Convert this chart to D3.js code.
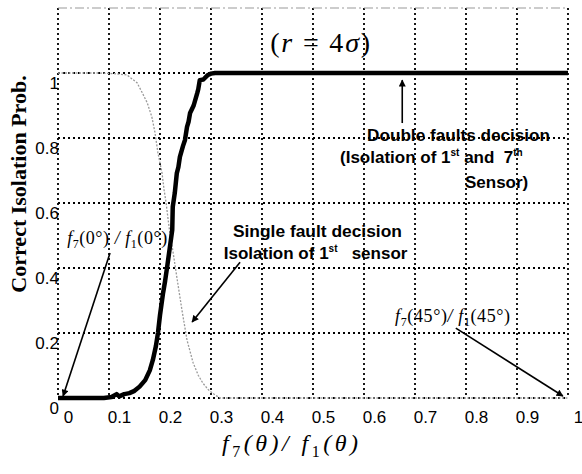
<!DOCTYPE html>
<html>
<head>
<meta charset="utf-8">
<script src="https://cdn.jsdelivr.net/npm/d3@7"></script>
<style>
  body { margin: 0; background: #fff; }
  .ann { font-family: "Liberation Sans", Arial, sans-serif; font-weight: bold; font-size: 17px; fill: #000; white-space: pre; }
  .math { font-family: "Liberation Serif", "Times New Roman", serif; font-style: italic; fill: #000; }
</style>
</head>
<body>
<div id="chart"></div>
<script>
let svgWidth = 582;
let svgHeight = 474;
let margin = { top: 8, right: 14, bottom: 76, left: 58 };
let width = svgWidth - margin.left - margin.right;
let height = svgHeight - margin.top - margin.bottom;

// tick values
let xTicks = [0, 0.1, 0.2, 0.3, 0.4, 0.5, 0.6, 0.7, 0.8, 0.9, 1];
let yTicks = [0, 0.2, 0.4, 0.6, 0.8, 1];

// double faults decision (thick black)
let doubleX = [0, 0.09, 0.105, 0.115, 0.12, 0.13, 0.14, 0.15, 0.16, 0.171, 0.18, 0.186, 0.192, 0.196, 0.2, 0.206, 0.21, 0.214, 0.219, 0.224, 0.225, 0.229, 0.233, 0.236, 0.239, 0.245, 0.249, 0.253, 0.256, 0.259, 0.266, 0.273, 0.275, 0.278, 0.285, 0.294, 0.3, 0.308, 1];
let doubleY = [0, 0, 0.003, 0.012, 0.005, 0.012, 0.015, 0.022, 0.035, 0.055, 0.085, 0.117, 0.16, 0.2, 0.255, 0.323, 0.36, 0.403, 0.46, 0.517, 0.588, 0.631, 0.692, 0.71, 0.742, 0.775, 0.794, 0.834, 0.85, 0.877, 0.9, 0.938, 0.95, 0.978, 0.98, 0.994, 0.998, 1, 1];

// single fault decision (thin grey)
let singleX = [0, 0.08, 0.11, 0.135, 0.155, 0.165, 0.175, 0.184, 0.19, 0.196, 0.204, 0.208, 0.212, 0.216, 0.22, 0.225, 0.233, 0.243, 0.253, 0.265, 0.275, 0.284, 0.295, 0.308, 0.318, 1];
let singleY = [1, 1, 0.998, 0.994, 0.97, 0.94, 0.908, 0.865, 0.818, 0.754, 0.692, 0.64, 0.6, 0.548, 0.5, 0.455, 0.372, 0.271, 0.178, 0.108, 0.07, 0.046, 0.025, 0.009, 0, 0];

let svg = d3.select("#chart").append("svg").attr("width", svgWidth).attr("height", svgHeight);
let chartGroup = svg.append("g").attr("transform", `translate(${margin.left}, ${margin.top})`);

let defs = svg.append("defs");
defs.append("marker")
  .attr("id", "head")
  .attr("viewBox", "0 0 10 10")
  .attr("refX", 9).attr("refY", 5)
  .attr("markerWidth", 8).attr("markerHeight", 7)
  .attr("markerUnits", "userSpaceOnUse")
  .attr("orient", "auto")
  .append("path").attr("d", "M0,0 L10,5 L0,10 Z").attr("fill", "#000");

let x = d3.scaleLinear().domain([0, 1]).range([0, width]);
let y = d3.scaleLinear().domain([0, 1.2]).range([height, 0]);

// Grid =========================
let dotted = g => g.attr("stroke", "#000").attr("stroke-width", 1.8).attr("stroke-dasharray", "2,3");

chartGroup.append("g").selectAll("line")
  .data(yTicks)
  .enter().append("line")
  .attr("x1", 0).attr("x2", width)
  .attr("y1", d => y(d)).attr("y2", d => y(d))
  .call(dotted);

chartGroup.append("g").selectAll("line")
  .data(xTicks)
  .enter().append("line")
  .attr("x1", d => x(d)).attr("x2", d => x(d))
  .attr("y1", 0).attr("y2", height)
  .call(dotted);

// top border, faint
chartGroup.append("line")
  .attr("x1", 0).attr("x2", width).attr("y1", 0).attr("y2", 0)
  .attr("stroke", "#999").attr("stroke-width", 1).attr("stroke-dasharray", "9,3,2,3");

// Axes labels ==================
let xAxis = chartGroup.append("g")
  .attr("transform", `translate(0, ${height})`)
  .call(d3.axisBottom(x).tickValues(xTicks).tickSize(0).tickPadding(0).tickFormat(d3.format("")));
xAxis.select(".domain").remove();
xAxis.selectAll("text")
  .attr("font-family", "Liberation Sans, Arial, sans-serif")
  .attr("font-size", 17)
  .attr("fill", "#000")
  .attr("dx", 10)
  .attr("y", 13)
  .attr("dy", "0.71em");

let yAxis = chartGroup.append("g")
  .call(d3.axisLeft(y).tickValues(yTicks).tickSize(0).tickPadding(-1).tickFormat(d3.format("")));
yAxis.select(".domain").remove();
yAxis.selectAll("text")
  .attr("font-family", "Liberation Sans, Arial, sans-serif")
  .attr("font-size", 17)
  .attr("fill", "#000")
  .attr("dy", "0.9em");

svg.append("text")
  .attr("transform", `translate(26, 184) rotate(-90)`)
  .attr("text-anchor", "middle")
  .attr("font-family", "Liberation Serif, Times New Roman, serif")
  .attr("font-weight", "bold")
  .attr("font-size", 22)
  .text("Correct Isolation Prob.");

let xTitle = svg.append("text")
  .attr("class", "math")
  .attr("x", 222).attr("y", 451)
  .attr("font-size", 24)
  .attr("textLength", 136)
  .attr("lengthAdjust", "spacing");
xTitle.append("tspan").text("f");
xTitle.append("tspan").attr("font-style", "normal").attr("font-size", 16).attr("dy", 6).text("7");
xTitle.append("tspan").attr("dy", -6).text("(θ)/ f");
xTitle.append("tspan").attr("font-style", "normal").attr("font-size", 16).attr("dy", 6).text("1");
xTitle.append("tspan").attr("dy", -6).text("(θ)");

// Curves =======================
let line = d3.line().x(d => x(d[0])).y(d => y(d[1]));

chartGroup.append("path")
  .datum(singleX.map((v, i) => [v, singleY[i]]))
  .attr("d", line)
  .attr("fill", "none")
  .attr("stroke", "#9a9a9a")
  .attr("stroke-width", 1.3)
  .attr("stroke-dasharray", "2,1.5");

chartGroup.append("path")
  .datum(doubleX.map((v, i) => [v, doubleY[i]]))
  .attr("d", line)
  .attr("fill", "none")
  .attr("stroke", "#000")
  .attr("stroke-width", 4.5)
  .attr("stroke-linejoin", "round");

// Annotations ==================
let title = chartGroup.append("text")
  .attr("x", x(0.416)).attr("y", y(1.065))
  .attr("font-family", "Liberation Serif, Times New Roman, serif")
  .attr("font-size", 28)
  .attr("textLength", 100)
  .attr("lengthAdjust", "spacing");
title.append("tspan").text("(");
title.append("tspan").attr("font-style", "italic").text("r");
title.append("tspan").text(" = 4");
title.append("tspan").attr("font-style", "italic").text("σ");
title.append("tspan").text(")");

let arrow = (x1, y1, x2, y2) => chartGroup.append("line")
  .attr("x1", x(x1)).attr("y1", y(y1))
  .attr("x2", x(x2)).attr("y2", y(y2))
  .attr("stroke", "#000").attr("stroke-width", 1.6)
  .attr("marker-end", "url(#head)");

// double faults
chartGroup.append("text").attr("class", "ann")
  .attr("x", x(0.606)).attr("y", y(0.792))
  .attr("textLength", 183).attr("lengthAdjust", "spacingAndGlyphs")
  .text("Double faults decision");
let l2 = chartGroup.append("text").attr("class", "ann")
  .attr("x", x(0.553)).attr("y", y(0.724));
l2.append("tspan").text("(Isolation of 1");
l2.append("tspan").attr("font-size", 10).attr("dy", -7).text("st");
l2.append("tspan").attr("dy", 7).text(" and  7");
l2.append("tspan").attr("font-size", 10).attr("dy", -7).text("th");
chartGroup.append("text").attr("class", "ann")
  .attr("x", x(0.798)).attr("y", y(0.647)).text("Sensor)");
arrow(0.675, 0.846, 0.675, 0.978);

// single fault
chartGroup.append("text").attr("class", "ann")
  .attr("x", x(0.343)).attr("y", y(0.495))
  .attr("textLength", 169).attr("lengthAdjust", "spacingAndGlyphs")
  .text("Single fault decision");
let s2 = chartGroup.append("text").attr("class", "ann")
  .attr("x", x(0.325)).attr("y", y(0.428));
s2.append("tspan").text("Isolation of 1");
s2.append("tspan").attr("font-size", 10).attr("dy", -7).text("st");
s2.append("tspan").attr("dy", 7).text("   sensor");
arrow(0.357, 0.418, 0.263, 0.234);

// f7(0)/f1(0)
let m1 = chartGroup.append("text").attr("class", "math")
  .attr("x", x(0.018)).attr("y", y(0.474))
  .attr("font-size", 18)
  .attr("textLength", 100).attr("lengthAdjust", "spacing");
m1.append("tspan").text("f");
m1.append("tspan").attr("font-style", "normal").attr("font-size", 12).attr("dy", 4).text("7");
m1.append("tspan").attr("font-style", "normal").attr("dy", -4).text("(0°)");
m1.append("tspan").text(" / f");
m1.append("tspan").attr("font-style", "normal").attr("font-size", 12).attr("dy", 4).text("1");
m1.append("tspan").attr("font-style", "normal").attr("dy", -4).text("(0°)");
arrow(0.102, 0.446, 0.01, 0.006);

// f7(45)/f1(45)
let m2 = chartGroup.append("text").attr("class", "math")
  .attr("x", x(0.661)).attr("y", y(0.234))
  .attr("font-size", 18)
  .attr("textLength", 115).attr("lengthAdjust", "spacing");
m2.append("tspan").text("f");
m2.append("tspan").attr("font-style", "normal").attr("font-size", 12).attr("dy", 4).text("7");
m2.append("tspan").attr("font-style", "normal").attr("dy", -4).text("(45°)");
m2.append("tspan").text("/ f");
m2.append("tspan").attr("font-style", "normal").attr("font-size", 12).attr("dy", 4).text("1");
m2.append("tspan").attr("font-style", "normal").attr("dy", -4).text("(45°)");
arrow(0.78, 0.215, 0.99, 0.006);
</script>
</body>
</html>
